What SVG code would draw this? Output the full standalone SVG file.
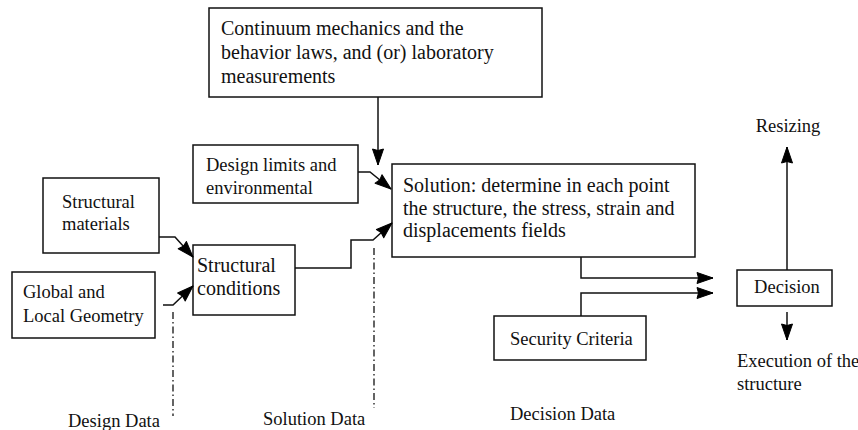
<svg xmlns="http://www.w3.org/2000/svg" width="858" height="430" viewBox="0 0 858 430">
<style>
.box{fill:#fff;stroke:#111;stroke-width:1.5}
.t{font-family:"Liberation Serif","Times New Roman",serif;fill:#111}
.big{font-size:20px}
.sm{font-size:18.5px}
.ln{fill:none;stroke:#111;stroke-width:1.5}
.dd{fill:none;stroke:#111;stroke-width:1.3;stroke-dasharray:7 3 1.5 3}
</style>
<defs>
<marker id="ah" viewBox="-1 -7 18 14" refX="16" refY="0" markerWidth="18" markerHeight="14" markerUnits="userSpaceOnUse" orient="auto">
<path d="M0,-5.5 L16,0 L0,5.5 L1.5,0 z" fill="#000" stroke="#000" stroke-width="1" stroke-linejoin="round"/>
</marker>
</defs>
<rect width="858" height="430" fill="#fff"/>

<g id="continuum">
<rect class="box" x="209" y="8" width="333" height="89"/>
<text class="t big" x="221" y="35">Continuum mechanics and the</text>
<text class="t big" x="221" y="59">behavior laws, and (or) laboratory</text>
<text class="t big" x="221" y="83">measurements</text>
</g>

<g id="design-limits">
<rect class="box" x="193" y="145" width="165" height="58"/>
<text class="t sm" x="206" y="171">Design limits and</text>
<text class="t sm" x="206" y="194">environmental</text>
</g>

<g id="solution">
<rect class="box" x="392" y="164" width="303" height="93"/>
<text class="t big" x="403" y="192">Solution: determine in each point</text>
<text class="t big" x="403" y="215">the structure, the stress, strain and</text>
<text class="t big" x="403" y="237">displacements fields</text>
</g>

<g id="structural-materials">
<rect class="box" x="43" y="178" width="116" height="75"/>
<text class="t sm" x="62" y="208">Structural</text>
<text class="t sm" x="62" y="230">materials</text>
</g>

<g id="global-geometry">
<rect class="box" x="12" y="272" width="143" height="66"/>
<text class="t sm" x="23" y="298">Global and</text>
<text class="t sm" x="23" y="322">Local Geometry</text>
</g>

<g id="structural-conditions">
<rect class="box" x="193" y="245" width="102" height="70"/>
<text class="t big" x="197" y="272">Structural</text>
<text class="t big" x="197" y="295">conditions</text>
</g>

<g id="security-criteria">
<rect class="box" x="494" y="316" width="152" height="44"/>
<text class="t sm" x="510" y="345">Security Criteria</text>
</g>

<g id="decision">
<rect class="box" x="737" y="270" width="95" height="36"/>
<text class="t sm" x="787" y="293" text-anchor="middle">Decision</text>
</g>

<g id="resizing">
<text class="t sm" x="788" y="132" text-anchor="middle">Resizing</text>
</g>

<g id="execution">
<text class="t sm" x="737" y="367">Execution of the</text>
<text class="t sm" x="737" y="390">structure</text>
</g>

<g id="labels">
<text class="t sm" x="68" y="427">Design Data</text>
<text class="t sm" x="263" y="425">Solution Data</text>
<text class="t sm" x="510" y="420">Decision Data</text>
</g>

<g id="connectors">
<path class="ln" d="M378,97 V165" marker-end="url(#ah)"/>
<path class="ln" d="M358,172 H370 L391,189" marker-end="url(#ah)"/>
<path class="ln" d="M295,268 H351 V240 H373 L392,223" marker-end="url(#ah)"/>
<path class="ln" d="M159,237 H175 L193,257" marker-end="url(#ah)"/>
<path class="ln" d="M163,305 H173 L193,286" marker-end="url(#ah)"/>
<path class="ln" d="M581,257 V278 H713" marker-end="url(#ah)"/>
<path class="ln" d="M581,316 V293 H713" marker-end="url(#ah)"/>
<path class="ln" d="M787,270 V147" marker-end="url(#ah)"/>
<path class="ln" d="M787,312 V340" marker-end="url(#ah)"/>
<path class="dd" d="M173,312 V416"/>
<path class="dd" d="M374,248 V408"/>
</g>
</svg>
